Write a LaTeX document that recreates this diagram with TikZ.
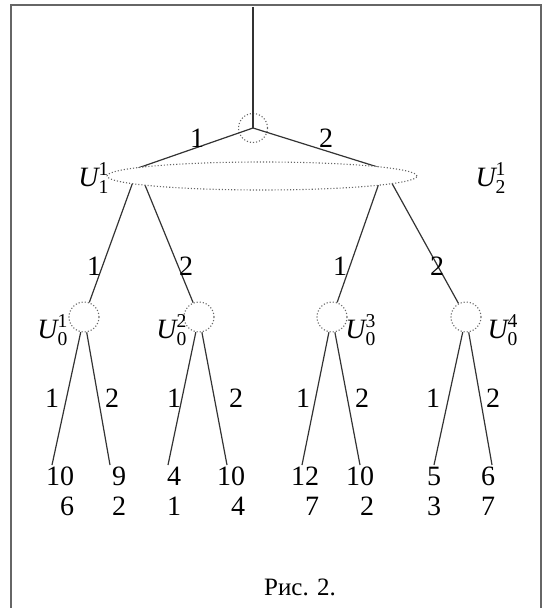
\documentclass[tikz,border=0pt]{standalone}
\usepackage{amsmath}
\usepackage{fontspec}
\setmainfont{Liberation Serif}
\usepackage{tikz}
\usetikzlibrary{shapes.geometric}
\newcommand{\infoset}[2]{$\textit{U}^{\text{#2}}_{\text{#1}}$}

\begin{document}
\begin{tikzpicture}[
    x=0.5pt, y=-0.5pt,
    edge/.style={draw=black!80, line width=0.6pt},
    chance/.style={circle, draw=black!60, densely dotted, line width=0.55pt, minimum size=15pt, inner sep=0pt},
    infoell/.style={ellipse, draw=black!60, densely dotted, line width=0.55pt, fill=white, minimum width=155pt, minimum height=14pt, inner sep=0pt},
    lbl/.style={font=\fontsize{14}{15}\selectfont, inner sep=0pt},
    payoff/.style={font=\fontsize{14}{15}\selectfont, align=right, inner sep=0pt},
    frame/.style={draw=black!60, line width=1.2pt},
]
\useasboundingbox (0,0) rectangle (542,608);

% === Frame ===
\coordinate (fbl) at (11,612);
\coordinate (ftl) at (11,5);
\coordinate (ftr) at (541,5);
\coordinate (fbr) at (541,612);
\draw[frame] (fbl) -- (ftl) -- (ftr) -- (fbr);

% === Root ===
\coordinate (top) at (253,7);
\node[chance, minimum size=14.5pt] (root) at (253,128) {};
\coordinate (a1) at (138,168);
\coordinate (a2) at (384,169);
\draw[edge] (top) -- (root.center);
\draw[edge] (root.center) -- (a1);
\draw[edge] (root.center) -- (a2);
\node[lbl] (r1) at (197,138) {1};
\node[lbl] (r2) at (326,138) {2};

% === Level 2: chance nodes ===
\node[chance] (u1) at (84,317) {};
\node[chance] (u2) at (199,317) {};
\node[chance] (u3) at (332,317) {};
\node[chance] (u4) at (466,317) {};
\draw[edge] (a1) -- (u1);
\draw[edge] (a1) -- (u2);
\draw[edge] (a2) -- (u3);
\draw[edge] (a2) -- (u4);
\node[lbl] (e1) at (94,266) {1};
\node[lbl] (e2) at (186,266) {2};
\node[lbl] (e3) at (340,266) {1};
\node[lbl] (e4) at (437,266) {2};

% === Information set (drawn over the edges) ===
\node[infoell] (info) at (262,176) {};
\node[lbl] (U11) at (94,178) {\infoset{1}{1}};
\node[lbl] (U21) at (491,178) {\infoset{2}{1}};
\node[lbl] (U01) at (53,330) {\infoset{0}{1}};
\node[lbl] (U02) at (172,330) {\infoset{0}{2}};
\node[lbl] (U03) at (361,330) {\infoset{0}{3}};
\node[lbl] (U04) at (503,330) {\infoset{0}{4}};

% === Level 3: leaves ===
\coordinate (l1) at (52,465);
\coordinate (l2) at (110,465);
\coordinate (l3) at (168,465);
\coordinate (l4) at (227,465);
\coordinate (l5) at (302,465);
\coordinate (l6) at (360,465);
\coordinate (l7) at (434,465);
\coordinate (l8) at (492,465);
\draw[edge] (u1) -- (l1);
\draw[edge] (u1) -- (l2);
\draw[edge] (u2) -- (l3);
\draw[edge] (u2) -- (l4);
\draw[edge] (u3) -- (l5);
\draw[edge] (u3) -- (l6);
\draw[edge] (u4) -- (l7);
\draw[edge] (u4) -- (l8);
\node[lbl] (f1) at (52,398) {1};
\node[lbl] (f2) at (112,398) {2};
\node[lbl] (f3) at (174,398) {1};
\node[lbl] (f4) at (236,398) {2};
\node[lbl] (f5) at (303,398) {1};
\node[lbl] (f6) at (362,398) {2};
\node[lbl] (f7) at (433,398) {1};
\node[lbl] (f8) at (493,398) {2};

% === Payoffs ===
\node[payoff] (p1) at (60,491) {10\\6};
\node[payoff] (p2) at (119,491) {9\\2};
\node[payoff] (p3) at (174,491) {4\\1};
\node[payoff] (p4) at (231,491) {10\\4};
\node[payoff] (p5) at (305,491) {12\\7};
\node[payoff] (p6) at (360,491) {10\\2};
\node[payoff] (p7) at (434,491) {5\\3};
\node[payoff] (p8) at (488,491) {6\\7};

% === Caption ===
\node[font=\fontsize{12.5}{14}\selectfont] (caption) at (300,587) {Рис. 2.};

\end{tikzpicture}
\end{document}
